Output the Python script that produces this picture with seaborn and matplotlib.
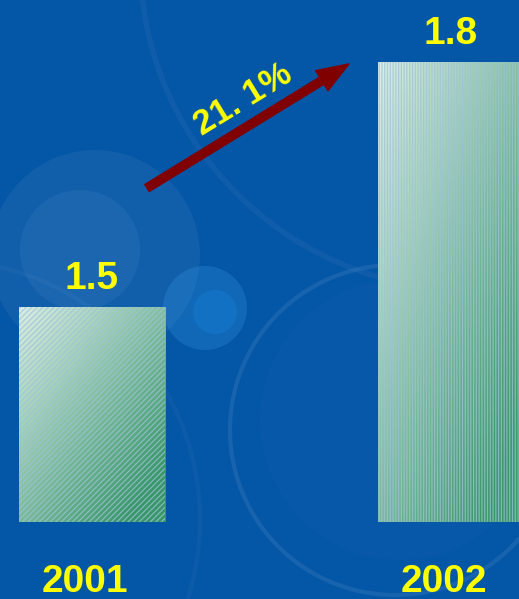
import numpy as np
import matplotlib
matplotlib.use("Agg")
import matplotlib.pyplot as plt
from matplotlib.patches import Circle
from matplotlib.colors import to_rgb
import seaborn as sns

# Data
years = ["2001", "2002"]
values = [1.5, 1.8]
value_labels = ["1.5", "1.8"]
growth_label = "21. 1%"

BASE = 1.2367          # value at the bars' common baseline
BG = "#0456a6"
YELLOW = "#ffff00"
ARROW = "#800000"

sns.set_theme(style="white")
plt.rcParams["font.family"] = ["Liberation Sans", "DejaVu Sans"]
plt.rcParams["hatch.linewidth"] = 0.9

fig = plt.figure(figsize=(5.19, 5.99), dpi=100, facecolor=BG)
ax = fig.add_axes([0, 0, 1, 1])
ax.set_facecolor(BG)

# soft decorative glows / rings in the background (inch coordinates)
tr = fig.dpi_scale_trans
def circ(cx, cy, r, **kw):
    ax.add_patch(Circle((cx / 100, (599 - cy) / 100), r / 100,
                        transform=tr, zorder=0, **kw))

circ(95, 255, 105, facecolor="#6f9fd0", alpha=0.13, lw=0)
circ(80, 250, 60, facecolor="#8fb6dd", alpha=0.09, lw=0)
circ(205, 308, 42, facecolor="#3aa0e8", alpha=0.25, lw=0)
circ(215, 312, 22, facecolor="#1a8ef0", alpha=0.25, lw=0)
circ(395, 430, 165, facecolor="none", edgecolor="#6fa3d6", alpha=0.18, lw=3)
circ(400, 420, 140, facecolor="#2f78c4", alpha=0.08, lw=0)
circ(470, -40, 330, facecolor="none", edgecolor="#5a8fcc", alpha=0.12, lw=4)
circ(-60, 520, 260, facecolor="none", edgecolor="#5a8fcc", alpha=0.10, lw=3)

sns.barplot(x=years, y=values, ax=ax, width=0.4067, color="white",
            saturation=1)

# gradient fill + fine hatch on each bar
light = np.array(to_rgb("#dcefe4"))
dark = np.array(to_rgb("#389767"))
hatches = ["//////", "||||||"]
bars = [p for p in ax.patches if p.get_height() in values]
for patch, val, hatch in zip(bars, values, hatches):
    x0, w = patch.get_x(), patch.get_width()
    patch.set_y(BASE)
    patch.set_height(val - BASE)
    u = np.linspace(0, 1, 200)[None, :]
    v = np.linspace(0, 1, 300)[:, None]
    t = np.clip(0.55 * u + 0.6 * v, 0, 1)[..., None]
    img = light * (1 - t) + dark * t
    im = ax.imshow(img, extent=[x0, x0 + w, BASE, val], origin="upper",
                   aspect="auto", interpolation="bilinear", zorder=1)
    im.set_clip_path(patch)
    patch.set_facecolor("none")
    patch.set_edgecolor((0.62, 0.76, 0.86, 0.75))
    patch.set_linewidth(0)
    patch.set_hatch(hatch)
    patch.set_zorder(2)

ax.set_xlim(-0.2563, 1.1894)
ax.set_ylim(1.14244, 1.87592)
ax.set_axis_off()

# value labels above bars, year labels below
for i, (val, lab, yr) in enumerate(zip(values, value_labels, years)):
    ax.annotate(lab, (i, val), xytext=(0, 10), textcoords="offset pixels",
                ha="center", va="bottom", color=YELLOW, fontsize=28,
                fontweight="bold", zorder=5)
    ax.annotate(yr, (i, BASE), xytext=(-7, -78), textcoords="offset pixels",
                ha="center", va="bottom", color=YELLOW, fontsize=28,
                fontweight="bold", zorder=5)

# growth arrow between the bars
ax.annotate("", xy=(0.6724, 0.8932), xytext=(0.2832, 0.6861),
            xycoords="axes fraction", textcoords="axes fraction",
            arrowprops=dict(width=6, headwidth=17, headlength=23,
                            facecolor=ARROW, edgecolor=ARROW, shrink=0),
            zorder=4)
ax.text(0.468, 0.833, growth_label, transform=ax.transAxes, rotation=31.5,
        rotation_mode="anchor", ha="center", va="center", color=YELLOW,
        fontsize=25, fontweight="bold", zorder=5)

fig.savefig("out.png", dpi=100, facecolor=BG)
